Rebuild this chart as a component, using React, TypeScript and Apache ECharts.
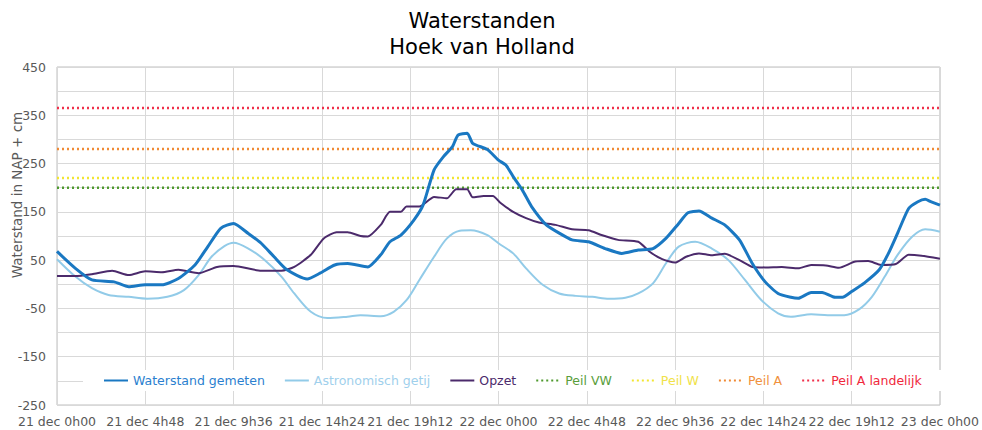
import React, { useEffect, useRef } from "react";
import * as echarts from "echarts";

// Hours since 21 dec 0h00 and values (cm NAP)
const hoursMeasured = [0, 1.0, 1.9, 3.1, 3.9, 4.8, 5.7, 6.6, 7.5, 8.2, 8.9, 9.6, 10.4, 11.1, 11.8, 12.5, 13.6, 14.3, 15.1, 15.8, 16.9, 17.6, 18.1, 18.7, 19.4, 19.9, 20.5, 21.0, 21.5, 21.8, 22.3, 22.6, 23.4, 24.0, 24.4, 24.8, 25.3, 25.8, 26.6, 27.3, 28.0, 28.9, 29.8, 30.7, 31.6, 32.4, 33.1, 33.8, 34.3, 34.9, 35.6, 36.3, 37.1, 37.8, 38.5, 39.2, 39.9, 40.3, 41.0, 41.6, 42.3, 42.7, 43.2, 43.9, 44.7, 45.2, 45.7, 46.3, 46.8, 47.2, 47.5, 48];
const waterstandGemeten = [68, 33, 9, 5, -5, -1, -1, 12, 40, 78, 116, 126, 105, 85, 57, 30, 11, 23, 40, 43, 36, 61, 88, 102, 133, 164, 237, 264, 285, 309, 313, 292, 279, 257, 247, 223, 195, 161, 123, 106, 92, 88, 74, 64, 71, 74, 95, 126, 148, 152, 137, 123, 92, 43, 5, -19, -27, -29, -17, -17, -27, -27, -15, 3, 30, 64, 106, 157, 171, 176, 171, 164];

const hoursAstro = [0, 1.0, 1.9, 2.8, 3.9, 4.9, 6.0, 6.9, 7.7, 8.4, 9.1, 9.6, 10.4, 11.3, 12.2, 12.9, 13.8, 14.7, 15.8, 16.5, 17.6, 18.3, 19.0, 19.7, 20.5, 21.2, 21.9, 22.5, 23.4, 24.0, 24.8, 25.5, 26.4, 27.3, 28.2, 29.1, 30.0, 30.9, 31.6, 32.4, 33.1, 33.8, 34.7, 35.6, 36.5, 37.4, 38.3, 39.2, 39.9, 41.0, 41.9, 42.8, 43.6, 44.3, 45.0, 45.7, 46.5, 47.2, 48];
const astronomischGetij = [52, 16, -8, -22, -26, -30, -26, -12, 19, 57, 79, 86, 74, 50, 16, -19, -57, -70, -67, -64, -66, -57, -33, 9, 57, 95, 111, 112, 102, 85, 64, 33, -1, -19, -24, -26, -30, -28, -19, 2, 43, 78, 88, 74, 50, 9, -33, -60, -67, -62, -64, -64, -52, -26, 16, 61, 99, 114, 109];

const hoursOpzet = [0, 1.0, 1.9, 3.0, 3.9, 4.8, 5.7, 6.6, 7.7, 8.7, 9.6, 11.1, 12.2, 12.9, 13.8, 14.5, 15.2, 15.8, 16.5, 16.9, 17.6, 18.1, 18.7, 19.0, 19.7, 20.5, 21.2, 21.7, 22.3, 22.6, 23.2, 23.7, 24.1, 24.8, 25.5, 26.2, 27.1, 28.0, 28.9, 29.6, 30.5, 31.6, 32.2, 32.9, 33.6, 34.2, 34.9, 35.6, 36.3, 37.1, 37.8, 38.5, 39.4, 40.3, 41.0, 41.8, 42.5, 43.4, 44.1, 44.8, 45.6, 46.3, 47.0, 48];
const opzet = [17, 17, 21, 28, 19, 27, 25, 30, 23, 36, 38, 28, 28, 36, 61, 95, 108, 108, 100, 99, 123, 150, 150, 161, 161, 181, 178, 197, 197, 180, 183, 183, 169, 150, 137, 128, 123, 114, 112, 102, 92, 88, 68, 52, 45, 57, 64, 60, 63, 50, 36, 35, 36, 33, 40, 39, 34, 47, 48, 40, 42, 61, 59, 53];

const peilNames = ["Peil VW", "Peil W", "Peil A", "Peil A landelijk"];
const peilValues = [200, 220, 280, 365];
const peilColors = ["#4f9a2e", "#f2e630", "#f08a35", "#f0304a"];
const peilTextColors = ["#5a9e3c", "#f0e24a", "#f0913c", "#f0283c"];

const FONT = "DejaVu Sans";

export default function App() {
  const ref = useRef<HTMLDivElement>(null);
  useEffect(() => {
    document.body.style.margin = "0";
    const chart = echarts.init(ref.current!, undefined, { renderer: "svg" });
    const toPairs = (hs: number[], vs: number[]) => hs.map((h, i) => [h * 60, vs[i]]);
    const series: any[] = [
      {
        name: "Waterstand gemeten",
        type: "line",
        data: toPairs(hoursMeasured, waterstandGemeten),
        showSymbol: false,
        symbol: "none",
        smooth: 0.2,
        lineStyle: { color: "#1a78c2", width: 3 },
        itemStyle: { color: "#1a78c2" },
        z: 5,
      },
      {
        name: "Astronomisch getij",
        type: "line",
        data: toPairs(hoursAstro, astronomischGetij),
        showSymbol: false,
        symbol: "none",
        smooth: 0.3,
        lineStyle: { color: "#92cbe8", width: 2 },
        itemStyle: { color: "#92cbe8" },
        z: 3,
      },
      {
        name: "Opzet",
        type: "line",
        data: toPairs(hoursOpzet, opzet),
        showSymbol: false,
        symbol: "none",
        smooth: 0.2,
        lineStyle: { color: "#4b2a6b", width: 2 },
        itemStyle: { color: "#4b2a6b" },
        z: 4,
      },
      ...peilNames.map((n, i) => ({
        name: n,
        type: "line",
        data: [
          [0, peilValues[i]],
          [2880, peilValues[i]],
        ],
        showSymbol: false,
        symbol: "none",
        lineStyle: { color: peilColors[i], width: 2.5, type: [2, 3] },
        itemStyle: { color: peilColors[i] },
        z: 2,
      })),
    ];
    const legendColors = ["#2b7fcf", "#9fd0ec", "#4b2a6b", ...peilTextColors];
    const legendNames = ["Waterstand gemeten", "Astronomisch getij", "Opzet", ...peilNames];
    chart.setOption({
      animation: false,
      grid: {
        left: 57,
        right: 40,
        top: 67,
        bottom: 25,
        show: true,
        borderColor: "#bfbfbf",
        borderWidth: 1,
        backgroundColor: "transparent",
      },
      legend: {
        left: 83,
        top: 370,
        padding: [4, 20],
        backgroundColor: "#ffffff",
        itemWidth: 24,
        itemHeight: 14,
        itemGap: 19,
        itemStyle: { opacity: 0 },
        data: legendNames.map((n, i) => ({
          name: n,
          textStyle: { color: legendColors[i] },
        })),
        textStyle: { fontFamily: FONT, fontSize: 12.5 },
      },
      xAxis: {
        type: "value",
        min: 0,
        max: 2880,
        interval: 288,
        axisLine: { show: false },
        axisTick: { show: false },
        splitLine: { show: true, lineStyle: { color: "#d9d9d9", width: 1 } },
        axisLabel: {
          color: "#595959",
          fontFamily: FONT,
          fontSize: 12.5,
          margin: 10,
          showMinLabel: true,
          showMaxLabel: true,
          formatter: (v: number) => {
            const m = Math.round(v);
            const day = 21 + Math.floor(m / 1440);
            const mm = m % 1440;
            const h = Math.floor(mm / 60);
            const mi = mm % 60;
            return `${day} dec ${h}h${String(mi).padStart(2, "0")}`;
          },
        },
      },
      yAxis: {
        type: "value",
        min: -250,
        max: 450,
        interval: 50,
        axisLine: { show: false },
        axisTick: { show: false },
        splitLine: { show: true, lineStyle: { color: "#d9d9d9", width: 1 } },
        axisLabel: {
          color: "#595959",
          fontFamily: FONT,
          fontSize: 12.5,
          margin: 11,
          formatter: (v: number) => ((Math.round(v) + 250) % 100 === 0 ? String(v) : ""),
        },
      },
      graphic: [
        {
          type: "text",
          x: 482,
          y: 21,
          style: {
            text: "Waterstanden",
            fill: "#000000",
            font: `21px "${FONT}"`,
            align: "center",
            verticalAlign: "middle",
          },
        },
        {
          type: "text",
          x: 482,
          y: 47,
          style: {
            text: "Hoek van Holland",
            fill: "#000000",
            font: `21px "${FONT}"`,
            align: "center",
            verticalAlign: "middle",
          },
        },
        {
          type: "text",
          x: 17,
          y: 195,
          rotation: Math.PI / 2,
          style: {
            text: "Waterstand in NAP + cm",
            fill: "#595959",
            font: `13.5px "${FONT}"`,
            align: "center",
            verticalAlign: "middle",
          },
        },
      ],
      series,
    });
    return () => chart.dispose();
  }, []);
  return <div ref={ref} style={{ width: 982, height: 430 }} />;
}
